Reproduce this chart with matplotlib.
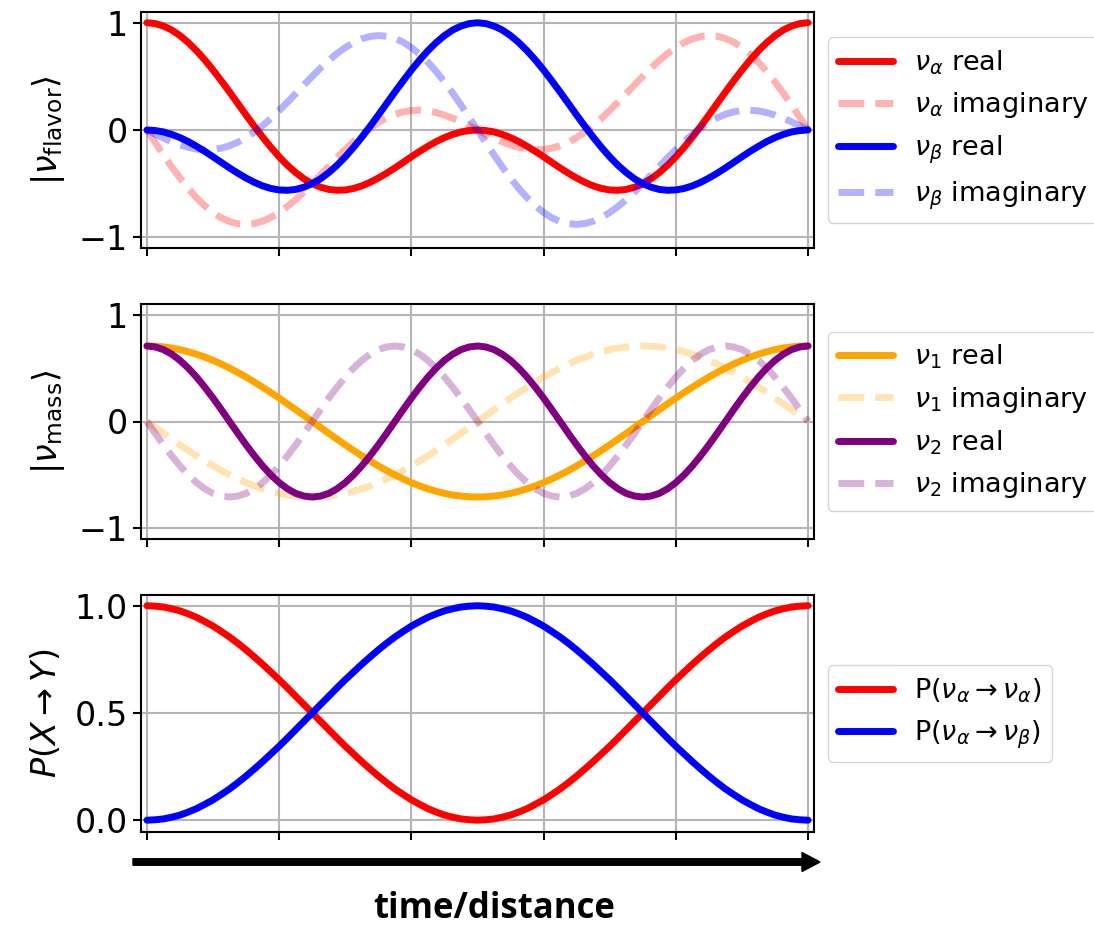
import numpy as np
import matplotlib
matplotlib.use("Agg")
import matplotlib.pyplot as plt
from matplotlib.patches import FancyArrow
from matplotlib.transforms import IdentityTransform

# ---- data (81 samples across time/distance) ----
alpha_real = [1.000, 0.992, 0.969, 0.932, 0.880, 0.815, 0.739, 0.653, 0.559, 0.458, 0.354, 0.247, 0.139,
              0.034, -0.067, -0.162, -0.250, -0.329, -0.397, -0.455, -0.500, -0.533, -0.554, -0.562,
              -0.559, -0.545, -0.521, -0.488, -0.448, -0.403, -0.354, -0.302, -0.250, -0.199, -0.152,
              -0.108, -0.071, -0.041, -0.018, -0.005, 0.000,
              -0.005, -0.018, -0.041, -0.071, -0.108, -0.152, -0.199, -0.250, -0.302, -0.354, -0.403,
              -0.448, -0.488, -0.521, -0.545, -0.559, -0.562, -0.554, -0.533, -0.500, -0.455, -0.397,
              -0.329, -0.250, -0.162, -0.067, 0.034, 0.139, 0.247, 0.354, 0.458, 0.559, 0.653, 0.739,
              0.815, 0.880, 0.932, 0.969, 0.992, 1.000]
alpha_imag = [0.000, -0.117, -0.233, -0.344, -0.448, -0.545, -0.632, -0.707, -0.769, -0.819, -0.854,
              -0.874, -0.880, -0.872, -0.850, -0.815, -0.769, -0.713, -0.648, -0.577, -0.500, -0.420,
              -0.339, -0.259, -0.182, -0.108, -0.041, 0.019, 0.071, 0.114, 0.146, 0.169, 0.182, 0.184,
              0.178, 0.162, 0.139, 0.110, 0.076, 0.039, 0.000,
              -0.039, -0.076, -0.110, -0.139, -0.162, -0.178, -0.184, -0.182, -0.169, -0.146, -0.114,
              -0.071, -0.019, 0.041, 0.108, 0.182, 0.259, 0.339, 0.420, 0.500, 0.577, 0.648, 0.713,
              0.769, 0.815, 0.850, 0.872, 0.880, 0.874, 0.854, 0.819, 0.769, 0.707, 0.632, 0.545, 0.448,
              0.344, 0.233, 0.117, 0.000]
beta_real = [0.000, -0.005, -0.018, -0.041, -0.071, -0.108, -0.152, -0.199, -0.250, -0.302, -0.354,
             -0.403, -0.448, -0.488, -0.521, -0.545, -0.559, -0.562, -0.554, -0.533, -0.500, -0.455,
             -0.397, -0.329, -0.250, -0.162, -0.067, 0.034, 0.139, 0.247, 0.354, 0.458, 0.559, 0.653,
             0.739, 0.815, 0.880, 0.932, 0.969, 0.992, 1.000,
             0.992, 0.969, 0.932, 0.880, 0.815, 0.739, 0.653, 0.559, 0.458, 0.354, 0.247, 0.139, 0.034,
             -0.067, -0.162, -0.250, -0.329, -0.397, -0.455, -0.500, -0.533, -0.554, -0.562, -0.559,
             -0.545, -0.521, -0.488, -0.448, -0.403, -0.354, -0.302, -0.250, -0.199, -0.152, -0.108,
             -0.071, -0.041, -0.018, -0.005, 0.000]
beta_imag = [0.000, -0.039, -0.076, -0.110, -0.139, -0.162, -0.178, -0.184, -0.182, -0.169, -0.146,
             -0.114, -0.071, -0.019, 0.041, 0.108, 0.182, 0.259, 0.339, 0.420, 0.500, 0.577, 0.648,
             0.713, 0.769, 0.815, 0.850, 0.872, 0.880, 0.874, 0.854, 0.819, 0.769, 0.707, 0.632, 0.545,
             0.448, 0.344, 0.233, 0.117, 0.000,
             -0.117, -0.233, -0.344, -0.448, -0.545, -0.632, -0.707, -0.769, -0.819, -0.854, -0.874,
             -0.880, -0.872, -0.850, -0.815, -0.769, -0.713, -0.648, -0.577, -0.500, -0.420, -0.339,
             -0.259, -0.182, -0.108, -0.041, 0.019, 0.071, 0.114, 0.146, 0.169, 0.182, 0.184, 0.178,
             0.162, 0.139, 0.110, 0.076, 0.039, 0.000]

m1_real = [0.707, 0.705, 0.698, 0.688, 0.673, 0.653, 0.630, 0.603, 0.572, 0.538, 0.500, 0.459, 0.416,
           0.369, 0.321, 0.271, 0.219, 0.165, 0.111, 0.055, 0.000, -0.055, -0.111, -0.165, -0.219,
           -0.271, -0.321, -0.369, -0.416, -0.459, -0.500, -0.538, -0.572, -0.603, -0.630, -0.653,
           -0.673, -0.688, -0.698, -0.705, -0.707, -0.705, -0.698, -0.688, -0.673, -0.653, -0.630,
           -0.603, -0.572, -0.538, -0.500, -0.459, -0.416, -0.369, -0.321, -0.271, -0.219, -0.165,
           -0.111, -0.055, 0.000, 0.055, 0.111, 0.165, 0.219, 0.271, 0.321, 0.369, 0.416, 0.459, 0.500,
           0.538, 0.572, 0.603, 0.630, 0.653, 0.673, 0.688, 0.698, 0.705, 0.707]
m1_imag = [0.000, -0.055, -0.111, -0.165, -0.219, -0.271, -0.321, -0.369, -0.416, -0.459, -0.500,
           -0.538, -0.572, -0.603, -0.630, -0.653, -0.673, -0.688, -0.698, -0.705, -0.707, -0.705,
           -0.698, -0.688, -0.673, -0.653, -0.630, -0.603, -0.572, -0.538, -0.500, -0.459, -0.416,
           -0.369, -0.321, -0.271, -0.219, -0.165, -0.111, -0.055, 0.000, 0.055, 0.111, 0.165, 0.219,
           0.271, 0.321, 0.369, 0.416, 0.459, 0.500, 0.538, 0.572, 0.603, 0.630, 0.653, 0.673, 0.688,
           0.698, 0.705, 0.707, 0.705, 0.698, 0.688, 0.673, 0.653, 0.630, 0.603, 0.572, 0.538, 0.500,
           0.459, 0.416, 0.369, 0.321, 0.271, 0.219, 0.165, 0.111, 0.055, 0.000]
m2_real = [0.707, 0.698, 0.673, 0.630, 0.572, 0.500, 0.416, 0.321, 0.219, 0.111, 0.000,
           -0.111, -0.219, -0.321, -0.416, -0.500, -0.572, -0.630, -0.673, -0.698, -0.707,
           -0.698, -0.673, -0.630, -0.572, -0.500, -0.416, -0.321, -0.219, -0.111, 0.000,
           0.111, 0.219, 0.321, 0.416, 0.500, 0.572, 0.630, 0.673, 0.698, 0.707,
           0.698, 0.673, 0.630, 0.572, 0.500, 0.416, 0.321, 0.219, 0.111, 0.000,
           -0.111, -0.219, -0.321, -0.416, -0.500, -0.572, -0.630, -0.673, -0.698, -0.707,
           -0.698, -0.673, -0.630, -0.572, -0.500, -0.416, -0.321, -0.219, -0.111, 0.000,
           0.111, 0.219, 0.321, 0.416, 0.500, 0.572, 0.630, 0.673, 0.698, 0.707]
m2_imag = [0.000, -0.111, -0.219, -0.321, -0.416, -0.500, -0.572, -0.630, -0.673, -0.698, -0.707,
           -0.698, -0.673, -0.630, -0.572, -0.500, -0.416, -0.321, -0.219, -0.111, 0.000,
           0.111, 0.219, 0.321, 0.416, 0.500, 0.572, 0.630, 0.673, 0.698, 0.707,
           0.698, 0.673, 0.630, 0.572, 0.500, 0.416, 0.321, 0.219, 0.111, 0.000,
           -0.111, -0.219, -0.321, -0.416, -0.500, -0.572, -0.630, -0.673, -0.698, -0.707,
           -0.698, -0.673, -0.630, -0.572, -0.500, -0.416, -0.321, -0.219, -0.111, 0.000,
           0.111, 0.219, 0.321, 0.416, 0.500, 0.572, 0.630, 0.673, 0.698, 0.707,
           0.698, 0.673, 0.630, 0.572, 0.500, 0.416, 0.321, 0.219, 0.111, 0.000]

p_aa = [1.000, 0.998, 0.994, 0.986, 0.976, 0.962, 0.946, 0.926, 0.905, 0.880, 0.854, 0.825, 0.794, 0.761,
        0.727, 0.691, 0.655, 0.617, 0.578, 0.539, 0.500, 0.461, 0.422, 0.383, 0.345, 0.309, 0.273, 0.239,
        0.206, 0.175, 0.146, 0.120, 0.095, 0.074, 0.054, 0.038, 0.024, 0.014, 0.006, 0.002, 0.000, 0.002,
        0.006, 0.014, 0.024, 0.038, 0.054, 0.074, 0.095, 0.120, 0.146, 0.175, 0.206, 0.239, 0.273, 0.309,
        0.345, 0.383, 0.422, 0.461, 0.500, 0.539, 0.578, 0.617, 0.655, 0.691, 0.727, 0.761, 0.794, 0.825,
        0.854, 0.880, 0.905, 0.926, 0.946, 0.962, 0.976, 0.986, 0.994, 0.998, 1.000]
p_ab = [0.000, 0.002, 0.006, 0.014, 0.024, 0.038, 0.054, 0.074, 0.095, 0.120, 0.146, 0.175, 0.206, 0.239,
        0.273, 0.309, 0.345, 0.383, 0.422, 0.461, 0.500, 0.539, 0.578, 0.617, 0.655, 0.691, 0.727, 0.761,
        0.794, 0.825, 0.854, 0.880, 0.905, 0.926, 0.946, 0.962, 0.976, 0.986, 0.994, 0.998, 1.000, 0.998,
        0.994, 0.986, 0.976, 0.962, 0.946, 0.926, 0.905, 0.880, 0.854, 0.825, 0.794, 0.761, 0.727, 0.691,
        0.655, 0.617, 0.578, 0.539, 0.500, 0.461, 0.422, 0.383, 0.345, 0.309, 0.273, 0.239, 0.206, 0.175,
        0.146, 0.120, 0.095, 0.074, 0.054, 0.038, 0.024, 0.014, 0.006, 0.002, 0.000]

x_ticks = [0, 0.2, 0.4, 0.6, 0.8, 1.0]


def tgrid(values):
    # sample positions evenly spaced across the time/distance range
    return np.linspace(0, 1, len(values))


# ---- figure ----
plt.rcParams['font.family'] = ['DejaVu Sans']
plt.rcParams['mathtext.fontset'] = 'dejavusans'

W, H = 1094, 926
fig = plt.figure(figsize=(W / 100, H / 100), dpi=100)

LW = 5
A_IM = 0.3
TICK_FS = 24
LEG_FS = 19.5

axes_pos = [
    [141 / W, 1 - 248 / H, 673 / W, 236 / H],
    [141 / W, 1 - 539 / H, 673 / W, 235 / H],
    [141 / W, 1 - 832 / H, 673 / W, 237 / H],
]
axs = [fig.add_axes(p) for p in axes_pos]


def style(ax):
    ax.set_xlim(-0.009, 1.009)
    ax.set_xticks(x_ticks)
    ax.set_xticklabels([])
    ax.grid(True, color='#b5b5b5', lw=1.5)
    ax.tick_params(axis='both', labelsize=TICK_FS, length=6, width=1.5, direction='out')
    for s in ax.spines.values():
        s.set_linewidth(1.5)


def line(ax, y, **kw):
    ax.plot(tgrid(y), y, lw=LW, solid_capstyle='round', **kw)


# panel 1: flavor states
ax = axs[0]
line(ax, alpha_real, color='red', label=r'$\nu_\alpha$ real')
line(ax, alpha_imag, color='red', ls='--', alpha=A_IM, label=r'$\nu_\alpha$ imaginary')
line(ax, beta_real, color='blue', label=r'$\nu_\beta$ real')
line(ax, beta_imag, color='blue', ls='--', alpha=A_IM, label=r'$\nu_\beta$ imaginary')
ax.set_ylim(-1.1, 1.1)
ax.set_yticks([-1, 0, 1])
ax.set_ylabel(r'$|\nu_{\mathrm{flavor}}\rangle$', fontsize=TICK_FS, labelpad=8)
style(ax)
ax.legend(loc='center left', bbox_to_anchor=(1.0, 0.5), fontsize=LEG_FS)

# panel 2: mass states
ax = axs[1]
line(ax, m1_real, color='orange', label=r'$\nu_1$ real')
line(ax, m1_imag, color='orange', ls='--', alpha=A_IM, label=r'$\nu_1$ imaginary')
line(ax, m2_real, color='purple', label=r'$\nu_2$ real')
line(ax, m2_imag, color='purple', ls='--', alpha=A_IM, label=r'$\nu_2$ imaginary')
ax.set_ylim(-1.1, 1.1)
ax.set_yticks([-1, 0, 1])
ax.set_ylabel(r'$|\nu_{\mathrm{mass}}\rangle$', fontsize=TICK_FS, labelpad=8)
style(ax)
ax.legend(loc='center left', bbox_to_anchor=(1.0, 0.5), fontsize=LEG_FS)

# panel 3: probabilities
ax = axs[2]
line(ax, p_aa, color='red', label=r'P($\nu_\alpha \rightarrow \nu_\alpha$)')
line(ax, p_ab, color='blue', label=r'P($\nu_\alpha \rightarrow \nu_\beta$)')
ax.set_ylim(-0.055, 1.05)
ax.set_yticks([0.0, 0.5, 1.0])
ax.set_ylabel(r'$P(X \rightarrow Y)$', fontsize=TICK_FS, labelpad=8)
style(ax)
ax.legend(loc='center left', bbox_to_anchor=(1.0, 0.5), fontsize=LEG_FS)

# arrow and axis caption
arrow = FancyArrow(133, H - 862, 687, 0, width=6.5, head_width=19, head_length=18,
                   length_includes_head=True, color='black', transform=IdentityTransform())
fig.add_artist(arrow)
fig.text(494 / W, (H - 918) / H, 'time/distance', ha='center', va='baseline',
         fontsize=25, fontweight='bold', family=['Open Sans', 'DejaVu Sans'])

fig.savefig('out.png', dpi=100)
